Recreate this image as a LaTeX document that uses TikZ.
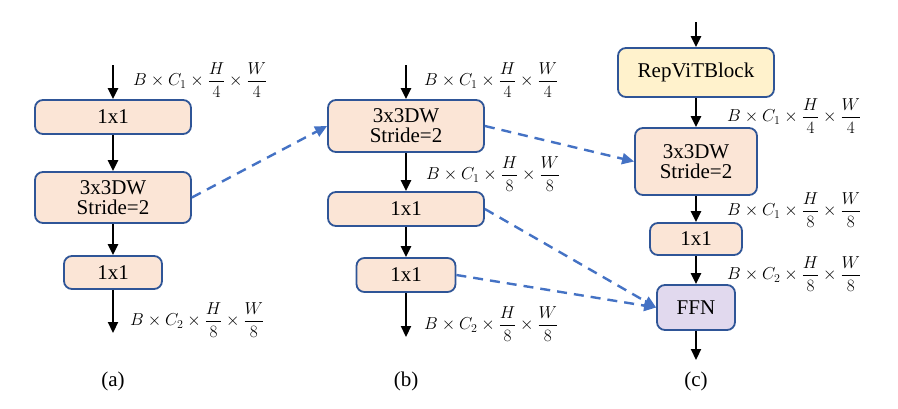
\documentclass[tikz,border=0pt]{standalone}
\usepackage{amsmath}
\usepackage{fontspec}
\setmainfont{Liberation Serif}
\usetikzlibrary{arrows.meta}
\definecolor{peach}{HTML}{FBE5D6}
\definecolor{cream}{HTML}{FFF2CC}
\definecolor{lav}{HTML}{E1D9EE}
\definecolor{bord}{HTML}{2F5597}
\definecolor{dblue}{HTML}{4472C4}
\tikzset{
  blk/.style={draw=bord, line width=1.8pt, rounded corners=8pt, fill=peach, align=center,
    font=\fontsize{21}{23}\selectfont, inner sep=0pt},
  flow/.style={line width=2.2pt, -{Triangle[length=11pt,width=10pt]}},
  skip/.style={draw=dblue, line width=2.4pt, dash pattern=on 10pt off 7pt, -{Triangle[length=12pt,width=11pt]}},
  dim/.style={anchor=west, font=\fontsize{17.5}{19}\selectfont, inner sep=0pt},
  captxt/.style={font=\fontsize{21}{23}\selectfont, inner sep=0pt}
}
\begin{document}
\begin{tikzpicture}[x=1pt,y=-1pt]
\useasboundingbox (0,0) rectangle (898,408);
% (a)
\coordinate (a0) at (113,65);
\node[blk, minimum width=156pt, minimum height=34pt] (a1) at (113,117) {1x1};
\node[blk, minimum width=156pt, minimum height=51pt] (a2) at (113,197.5) {3x3DW\\[-3pt]Stride=2};
\node[blk, minimum width=98pt, minimum height=33pt] (a3) at (113,272.5) {1x1};
\coordinate (a4) at (113,333);
\draw[flow] (a0) -- (a1);
\draw[flow] (a1) -- (a2);
\draw[flow] (a2) -- (a3);
\draw[flow] (a3) -- (a4);
\node[dim] (la1) at (133,80) {$B\times C_1\times\dfrac{H}{4}\times\dfrac{W}{4}$};
\node[dim] (la2) at (130,320) {$B\times C_2\times\dfrac{H}{8}\times\dfrac{W}{8}$};
\node[captxt] (ca) at (113,381) {(a)};
% (b)
\coordinate (b0) at (406,65);
\node[blk, minimum width=156pt, minimum height=52pt] (b1) at (406,126) {3x3DW\\[-3pt]Stride=2};
\node[blk, minimum width=156pt, minimum height=34pt] (b2) at (406,209) {1x1};
\node[blk, minimum width=99pt, minimum height=34pt] (b3) at (406,275) {1x1};
\coordinate (b4) at (406,337);
\draw[flow] (b0) -- (b1);
\draw[flow] (b1) -- (b2);
\draw[flow] (b2) -- (b3);
\draw[flow] (b3) -- (b4);
\node[dim] (lb1) at (424,80) {$B\times C_1\times\dfrac{H}{4}\times\dfrac{W}{4}$};
\node[dim] (lb2) at (426,174) {$B\times C_1\times\dfrac{H}{8}\times\dfrac{W}{8}$};
\node[dim] (lb3) at (424,324) {$B\times C_2\times\dfrac{H}{8}\times\dfrac{W}{8}$};
\node[captxt] (cb) at (406,381) {(b)};
% (c)
\coordinate (c0) at (696,22);
\node[blk, fill=cream, minimum width=156pt, minimum height=49pt] (c1) at (696,72.5) {RepViTBlock};
\node[blk, minimum width=122pt, minimum height=67pt] (c2) at (696,161.5) {3x3DW\\[-3pt]Stride=2};
\node[blk, minimum width=92pt, minimum height=32pt] (c3) at (696,239) {1x1};
\node[blk, fill=lav, minimum width=78pt, minimum height=45pt] (c4) at (696,307.5) {FFN};
\coordinate (c5) at (696,360);
\draw[flow] (c0) -- (c1);
\draw[flow] (c1) -- (c2);
\draw[flow] (c2) -- (c3);
\draw[flow] (c3) -- (c4);
\draw[flow] (c4) -- (c5);
\node[dim] (lc1) at (727,116) {$B\times C_1\times\dfrac{H}{4}\times\dfrac{W}{4}$};
\node[dim] (lc2) at (727,210) {$B\times C_1\times\dfrac{H}{8}\times\dfrac{W}{8}$};
\node[dim] (lc3) at (727,274) {$B\times C_2\times\dfrac{H}{8}\times\dfrac{W}{8}$};
\node[captxt] (cc) at (696,381) {(c)};
% skip connections
\draw[skip] (a2.east) -- (b1.west);
\draw[skip] (b1.east) -- (c2.west);
\draw[skip] (b2.east) -- (c4.west);
\draw[skip] (b3.east) -- (c4.west);
\end{tikzpicture}
\end{document}
